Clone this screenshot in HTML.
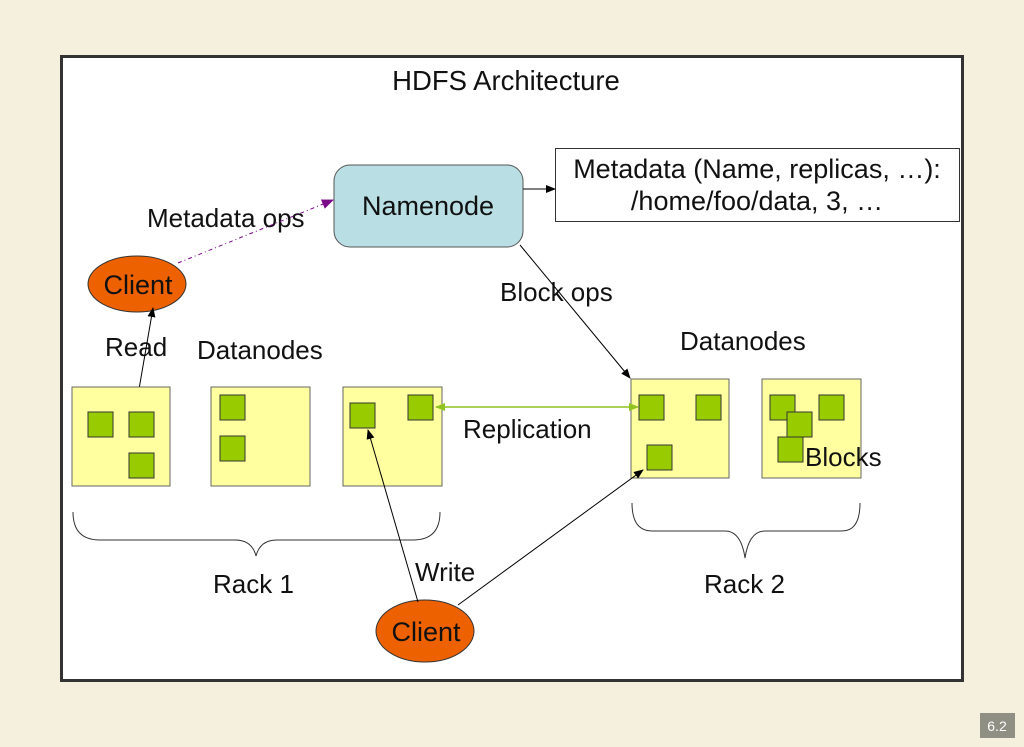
<!DOCTYPE html>
<html><head><style>
html,body{margin:0;padding:0;background:#f5f0de;}
svg{display:block}
text{font-family:"Liberation Sans",sans-serif;fill:#111}
</style></head><body>
<svg width="1024" height="747" viewBox="0 0 1024 747" xmlns="http://www.w3.org/2000/svg">
<defs>
<marker id="a" markerWidth="10" markerHeight="8" refX="9" refY="4" orient="auto" markerUnits="userSpaceOnUse"><path d="M0,0 L10,4 L0,8 z" fill="#000"/></marker>
<marker id="p" markerWidth="12" markerHeight="10" refX="11" refY="5" orient="auto" markerUnits="userSpaceOnUse"><path d="M0,0 L12,5 L0,10 z" fill="#7a0a8a"/></marker>
<marker id="g" markerWidth="10" markerHeight="8" refX="9" refY="4" orient="auto-start-reverse" markerUnits="userSpaceOnUse"><path d="M0,0 L10,4 L0,8 z" fill="#8fc31f"/></marker>
</defs>
<rect x="0" y="0" width="1024" height="747" fill="#f5f0de"/>
<rect x="61.5" y="56.5" width="901" height="624" fill="#fff" stroke="#333" stroke-width="3"/>
<text x="506" y="90" font-size="27.5" text-anchor="middle">HDFS Architecture</text>
<rect x="334" y="165" width="189" height="82" rx="16" fill="#b9dfe4" stroke="#555" stroke-width="1"/>
<text x="428" y="215" font-size="27" text-anchor="middle">Namenode</text>
<rect x="555.5" y="148.5" width="404" height="73" fill="#fff" stroke="#333" stroke-width="1"/>
<text x="757" y="178" font-size="27" text-anchor="middle">Metadata (Name, replicas, …):</text>
<text x="757" y="210" font-size="27" text-anchor="middle">/home/foo/data, 3, …</text>
<line x1="523" y1="189" x2="555" y2="189" stroke="#000" marker-end="url(#a)"/>
<ellipse cx="137" cy="284" rx="49" ry="28" fill="#ee6100" stroke="#333"/>
<text x="138" y="294" font-size="27" text-anchor="middle">Client</text>
<text x="147" y="227" font-size="26">Metadata ops</text>
<line x1="178" y1="263" x2="333" y2="200" stroke="#7a0a8a" stroke-dasharray="4,3,1,3" marker-end="url(#p)"/>
<text x="105" y="356" font-size="26">Read</text>
<line x1="138" y1="395" x2="153" y2="308" stroke="#000" marker-end="url(#a)"/>
<text x="197" y="359" font-size="26">Datanodes</text>
<g fill="#ffffa0" stroke="#666">
<rect x="72" y="387" width="98" height="99"/><rect x="211" y="387" width="99" height="99"/><rect x="343" y="387" width="99" height="99"/>
<rect x="631" y="379" width="98" height="99"/><rect x="762" y="379" width="99" height="99"/>
</g>
<g fill="#99cc00" stroke="#333">
<rect x="88" y="412" width="25" height="25"/><rect x="129" y="412" width="25" height="25"/><rect x="129" y="453" width="25" height="25"/>
<rect x="220" y="395" width="25" height="25"/><rect x="220" y="436" width="25" height="25"/>
<rect x="350" y="403" width="25" height="25"/><rect x="408" y="395" width="25" height="25"/>
<rect x="639" y="395" width="25" height="25"/><rect x="696" y="395" width="25" height="25"/><rect x="647" y="445" width="25" height="25"/>
<rect x="770" y="395" width="25" height="25"/><rect x="819" y="395" width="25" height="25"/><rect x="787" y="412" width="25" height="25"/><rect x="778" y="437" width="25" height="25"/>
</g>
<text x="805" y="466" font-size="26">Blocks</text>
<text x="680" y="350" font-size="26">Datanodes</text>
<text x="500" y="301" font-size="26">Block ops</text>
<line x1="520" y1="245" x2="630" y2="378" stroke="#000" marker-end="url(#a)"/>
<line x1="436" y1="407" x2="638" y2="407" stroke="#8fc31f" stroke-width="1.5" marker-start="url(#g)" marker-end="url(#g)"/>
<text x="463" y="438" font-size="26">Replication</text>
<path d="M73,512 Q73,540 100,540 L235,540 Q252,540 256,556 Q260,540 277,540 L413,540 Q440,540 440,512" fill="none" stroke="#333"/>
<path d="M632,503 Q632,531 652,531 L725,531 Q741,531 745,558 Q749,531 765,531 L842,531 Q860,531 860,503" fill="none" stroke="#333"/>
<text x="213" y="593" font-size="26">Rack 1</text>
<text x="704" y="593" font-size="26">Rack 2</text>
<ellipse cx="425" cy="631" rx="49" ry="31" fill="#ee6100" stroke="#333"/>
<text x="426" y="641" font-size="27" text-anchor="middle">Client</text>
<text x="415" y="581" font-size="26">Write</text>
<line x1="418" y1="602" x2="368" y2="430" stroke="#000" marker-end="url(#a)"/>
<line x1="458" y1="605" x2="643" y2="470" stroke="#000" marker-end="url(#a)"/>
<rect x="980" y="713" width="35" height="25" fill="#8f8f84"/>
<text x="997" y="731" font-size="14" text-anchor="middle" style="fill:#fff">6.2</text>
</svg>
</body></html>
